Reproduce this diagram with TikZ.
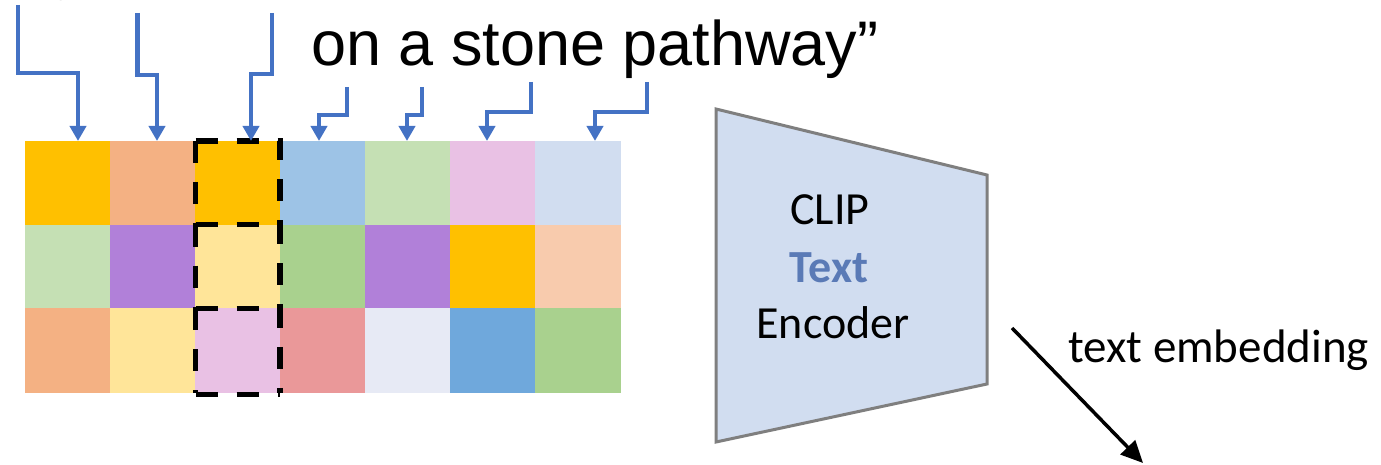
\documentclass[tikz,border=0pt]{standalone}
\usepackage{fontspec}
\setmainfont{Carlito}
\newfontfamily\promptfont{Liberation Sans}
\usetikzlibrary{arrows.meta}

\definecolor{feedblue}{HTML}{4472C4}
\definecolor{wordblue}{HTML}{5A7AB6}
\definecolor{encfill}{HTML}{D1DDF0}
\definecolor{encline}{HTML}{7F7F7F}
% patch colours
\definecolor{pA}{HTML}{FFC000}
\definecolor{pB}{HTML}{F4B183}
\definecolor{pC}{HTML}{9DC3E6}
\definecolor{pD}{HTML}{C5E0B4}
\definecolor{pE}{HTML}{E9C1E4}
\definecolor{pF}{HTML}{D1DDF0}
\definecolor{pG}{HTML}{B180D9}
\definecolor{pH}{HTML}{FFE599}
\definecolor{pI}{HTML}{A9D18E}
\definecolor{pJ}{HTML}{F8CBAD}
\definecolor{pK}{HTML}{EA9899}
\definecolor{pL}{HTML}{E7EAF5}
\definecolor{pM}{HTML}{6FA8DC}

\begin{document}
\begin{tikzpicture}[x=1pt,y=-1pt,
  cell/.style={minimum width=85.6pt,minimum height=84.2pt,inner sep=0pt,outer sep=0pt,anchor=north west},
  dashbox/.style={draw=black,line width=5.5pt,dash pattern=on 22pt off 19pt},
  feed/.style={draw=feedblue,line width=4.5pt,-{Triangle[length=15pt,width=16pt]}},
  prompt/.style={font=\promptfont\fontsize{63}{75}\selectfont,inner sep=0pt,anchor=base west},
  enclabel/.style={font=\fontsize{46}{56}\selectfont,inner sep=0pt,anchor=base},
  encoder/.style={draw=encline,fill=encfill,line width=3pt,line join=miter},
  outarrow/.style={draw=black,line width=3.5pt,-{Triangle[length=22pt,width=20pt]}}
]
\useasboundingbox (0,0) rectangle (1381,465);

% patch grid, row by row
\foreach \col [count=\c] in {pA,pB,pA,pC,pD,pE,pF}
  \node[cell,fill=\col] (c-1-\c) at ({25+85*(\c-1)},141) {};
\foreach \col [count=\c] in {pD,pG,pH,pI,pG,pA,pJ}
  \node[cell,fill=\col] (c-2-\c) at ({25+85*(\c-1)},224.7) {};
\foreach \col [count=\c] in {pB,pH,pE,pK,pL,pM,pI}
  \node[cell,fill=\col] (c-3-\c) at ({25+85*(\c-1)},308.3) {};

% highlighted column: one dashed square per token, drawn from its top-left corner
\foreach \r in {1,2,3} {
  \coordinate (hl-nw-\r) at ([xshift=0.5pt]c-\r-3.north west);
  \coordinate (hl-ne-\r) at ([xshift=-0.6pt]c-\r-3.north east);
  \coordinate (hl-sw-\r) at ([xshift=0.5pt]c-\r-3.south west);
  \coordinate (hl-se-\r) at ([xshift=-0.6pt]c-\r-3.south east);
  \draw[dashbox] (hl-nw-\r) -- (hl-sw-\r);
  \draw[dashbox] (hl-nw-\r) -- (hl-ne-\r) -- (hl-se-\r);
}
\draw[dashbox] ([yshift=-2pt]hl-sw-3) -- ([yshift=-2pt]hl-se-3);

% prompt text
\node[prompt] (gtail) at (44,-12) {g};
\node[prompt] (words) at (311,66) {on a stone pathway”};

% word-to-token arrows
\coordinate (s1) at (18,5);    \coordinate (k1) at (78,73);  \coordinate (t1) at (78,141);
\coordinate (s2) at (137.5,13);\coordinate (k2) at (157,75); \coordinate (t2) at (157,141);
\coordinate (s3) at (272,13);  \coordinate (k3) at (251,74); \coordinate (t3) at (251,141);
\coordinate (s4) at (347,87);  \coordinate (k4) at (319,115);\coordinate (t4) at (319,141);
\coordinate (s5) at (422,87);  \coordinate (k5) at (407,115);\coordinate (t5) at (407,141);
\coordinate (s6) at (531,82);  \coordinate (k6) at (487,112);\coordinate (t6) at (487,141);
\coordinate (s7) at (647,82);  \coordinate (k7) at (595,112);\coordinate (t7) at (595,141);
\foreach \i in {1,...,7}
  \draw[feed] (s\i) |- (k\i) -- (t\i);

% text encoder
\coordinate (e1) at (716,109);
\coordinate (e2) at (987,175);
\coordinate (e3) at (987,384);
\coordinate (e4) at (716,442);
\draw[encoder] (e1) -- (e2) -- (e3) -- (e4) -- cycle;
\node[enclabel] (clip) at (830,225) {CLIP};
\node[enclabel,font=\fontsize{46}{56}\selectfont\bfseries,text=wordblue] (textword) at (829,282) {Text};
\node[enclabel] (enc) at (833,338) {Encoder};

% output
\coordinate (out) at (1012,328);
\coordinate (emb) at (1143,463);
\draw[outarrow] (out) -- (emb);
\node[enclabel,font=\fontsize{47}{56}\selectfont,anchor=base west] (emblabel) at (1068,362) {text embedding};
\end{tikzpicture}
\end{document}
